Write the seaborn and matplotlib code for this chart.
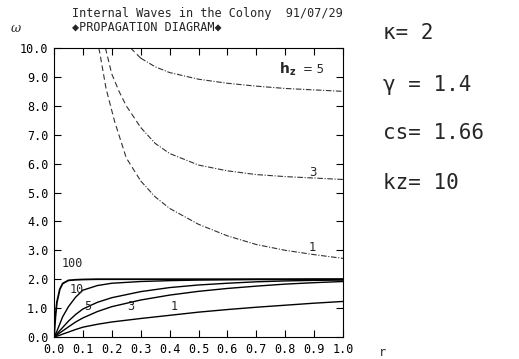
import matplotlib
matplotlib.use("Agg")
import matplotlib.pyplot as plt
import seaborn as sns
import pandas as pd

# ---------------- data ----------------
r_low = [0, 0.005, 0.01, 0.02, 0.03, 0.05, 0.075, 0.1, 0.15, 0.2, 0.3, 0.4, 0.5, 0.6, 0.7, 0.8, 0.9, 1.0]
w_low_100 = [0, 0.7, 1.2, 1.65, 1.85, 1.96, 1.98, 1.99, 2.0, 2.0, 2.0, 2.0, 2.0, 2.0, 2.0, 2.0, 2.0, 2.0]
w_low_10 = [0, 0.1, 0.2, 0.45, 0.7, 1.05, 1.38, 1.62, 1.78, 1.86, 1.92, 1.95, 1.97, 1.98, 1.99, 1.99, 2.0, 2.0]
w_low_5 = [0, 0.05, 0.11, 0.22, 0.33, 0.55, 0.78, 0.97, 1.2, 1.36, 1.57, 1.71, 1.8, 1.86, 1.91, 1.94, 1.96, 1.97]
w_low_3 = [0, 0.03, 0.07, 0.14, 0.21, 0.35, 0.52, 0.66, 0.88, 1.05, 1.28, 1.45, 1.58, 1.68, 1.76, 1.83, 1.88, 1.92]
w_low_1 = [0, 0.01, 0.03, 0.06, 0.1, 0.17, 0.26, 0.34, 0.44, 0.52, 0.64, 0.75, 0.86, 0.95, 1.03, 1.1, 1.17, 1.23]
low_labels = ["100", "10", "5", "3", "1"]

r_up_1 = [0.155, 0.16, 0.18, 0.21, 0.25, 0.3, 0.35, 0.4, 0.5, 0.6, 0.7, 0.8, 0.9, 1.0]
w_up_1 = [10.0, 9.75, 8.6, 7.45, 6.2, 5.4, 4.85, 4.45, 3.9, 3.5, 3.2, 3.0, 2.85, 2.72]
r_up_3 = [0.178, 0.2, 0.225, 0.25, 0.3, 0.35, 0.4, 0.5, 0.6, 0.7, 0.8, 0.9, 1.0]
w_up_3 = [10.0, 9.1, 8.5, 8.0, 7.25, 6.7, 6.35, 5.95, 5.75, 5.62, 5.55, 5.5, 5.45]
r_up_5 = [0.265, 0.3, 0.35, 0.4, 0.5, 0.6, 0.7, 0.8, 0.9, 1.0]
w_up_5 = [10.0, 9.65, 9.35, 9.15, 8.92, 8.78, 8.68, 8.6, 8.55, 8.5]

x_ticks = [0.0, 0.1, 0.2, 0.3, 0.4, 0.5, 0.6, 0.7, 0.8, 0.9, 1.0]
x_ticklabels = ["0.0", "0.1", "0.2", "0.3", "0.4", "0.5", "0.6", "0.7", "0.8", "0.9", "1.0"]
y_ticks = [0, 1, 2, 3, 4, 5, 6, 7, 8, 9, 10]
y_ticklabels = ["0.0", "1.0", "2.0", "3.0", "4.0", "5.0", "6.0", "7.0", "8.0", "9.0", "10.0"]

title1 = "Internal Waves in the Colony  91/07/29"
title2 = "\u25c6PROPAGATION DIAGRAM\u25c6"
params = ["\u03ba= 2", "\u03b3 = 1.4", "cs= 1.66", "kz= 10"]

# ---------------- figure ----------------
sns.set_style("white")
plt.rcParams["font.family"] = ["DejaVu Sans Mono", "DejaVu Sans"]
MONO = ["DejaVu Sans Mono", "DejaVu Sans"]

fig = plt.figure(figsize=(5.19, 3.59), dpi=100)
ax = fig.add_axes([54 / 519, 1 - 337 / 359, (343 - 54) / 519, (337 - 48) / 359])

low = pd.DataFrame({"r": r_low, "100": w_low_100, "10": w_low_10, "5": w_low_5,
                    "3": w_low_3, "1": w_low_1})
for lab in low_labels:
    sns.lineplot(data=low, x="r", y=lab, ax=ax, color="black",
                 lw=1.3 if lab == "100" else 1.0, estimator=None, sort=False)

dash_dot = (0, (5, 1.5, 1, 1.5))
for rr, ww in [(r_up_1, w_up_1), (r_up_3, w_up_3), (r_up_5, w_up_5)]:
    df = pd.DataFrame({"r": rr, "w": ww})
    part1 = df[df["r"] <= 0.3]
    part2 = df[df["r"] >= 0.3]
    if len(part1) > 1:
        sns.lineplot(data=part1, x="r", y="w", ax=ax, color="#333333", lw=0.8,
                     linestyle=(0, (5, 3)), estimator=None, sort=False)
    sns.lineplot(data=part2, x="r", y="w", ax=ax, color="#333333", lw=0.8,
                 linestyle=dash_dot, estimator=None, sort=False)

ax.set_xlim(0, 1)
ax.set_ylim(0, 10)
ax.set_xticks(x_ticks)
ax.set_xticklabels(x_ticklabels, fontfamily=MONO, fontsize=8.5)
ax.set_yticks(y_ticks)
ax.set_yticklabels(y_ticklabels, fontfamily=MONO, fontsize=8.5)
ax.tick_params(direction="in", length=5, width=0.8, top=True, right=True,
               bottom=True, left=True, pad=4, colors="black")
ax.set_xlabel("")
ax.set_ylabel("")
for s in ax.spines.values():
    s.set_color("black")
    s.set_linewidth(0.8)

# curve labels
ax.text(0.065, 2.55, "100", fontsize=8.5, fontfamily=MONO, ha="center", va="center")
ax.text(0.08, 1.65, "10", fontsize=8.5, fontfamily=MONO, ha="center", va="center")
ax.text(0.115, 1.05, "5", fontsize=8.5, fontfamily=MONO, ha="center", va="center")
ax.text(0.265, 1.05, "3", fontsize=8.5, fontfamily=MONO, ha="center", va="center")
ax.text(0.415, 1.05, "1", fontsize=8.5, fontfamily=MONO, ha="center", va="center")
ax.text(0.895, 5.7, "3", fontsize=8.5, fontfamily=["DejaVu Sans"], ha="center", va="center")
ax.text(0.895, 3.1, "1", fontsize=8.5, fontfamily=["DejaVu Sans"], ha="center", va="center")
ax.text(0.78, 9.25, r"$\mathbf{h_z}$", fontsize=10, ha="left", va="center")
ax.text(0.86, 9.25, "= 5", fontsize=8.5, fontfamily=["DejaVu Sans"], ha="left", va="center")

# titles
fig.text(72 / 519, 1 - 13 / 359, title1, fontsize=8.5, fontfamily=MONO, ha="left", va="center")
fig.text(72 / 519, 1 - 27 / 359, title2, fontsize=8.5, fontfamily=MONO, ha="left", va="center")
fig.text(16 / 519, 1 - 29 / 359, "\u03c9", fontsize=9, fontstyle="italic",
         fontfamily=["DejaVu Serif"], ha="center", va="center")
fig.text(382 / 519, 1 - 352 / 359, "r", fontsize=8.5, fontfamily=MONO, ha="center", va="center")

# parameters
py = [33, 85, 133, 183]
for t, y in zip(params, py):
    fig.text(383 / 519, 1 - y / 359, t, fontsize=15, fontfamily=MONO, ha="left", va="center")

fig.savefig("out.png", dpi=100)
